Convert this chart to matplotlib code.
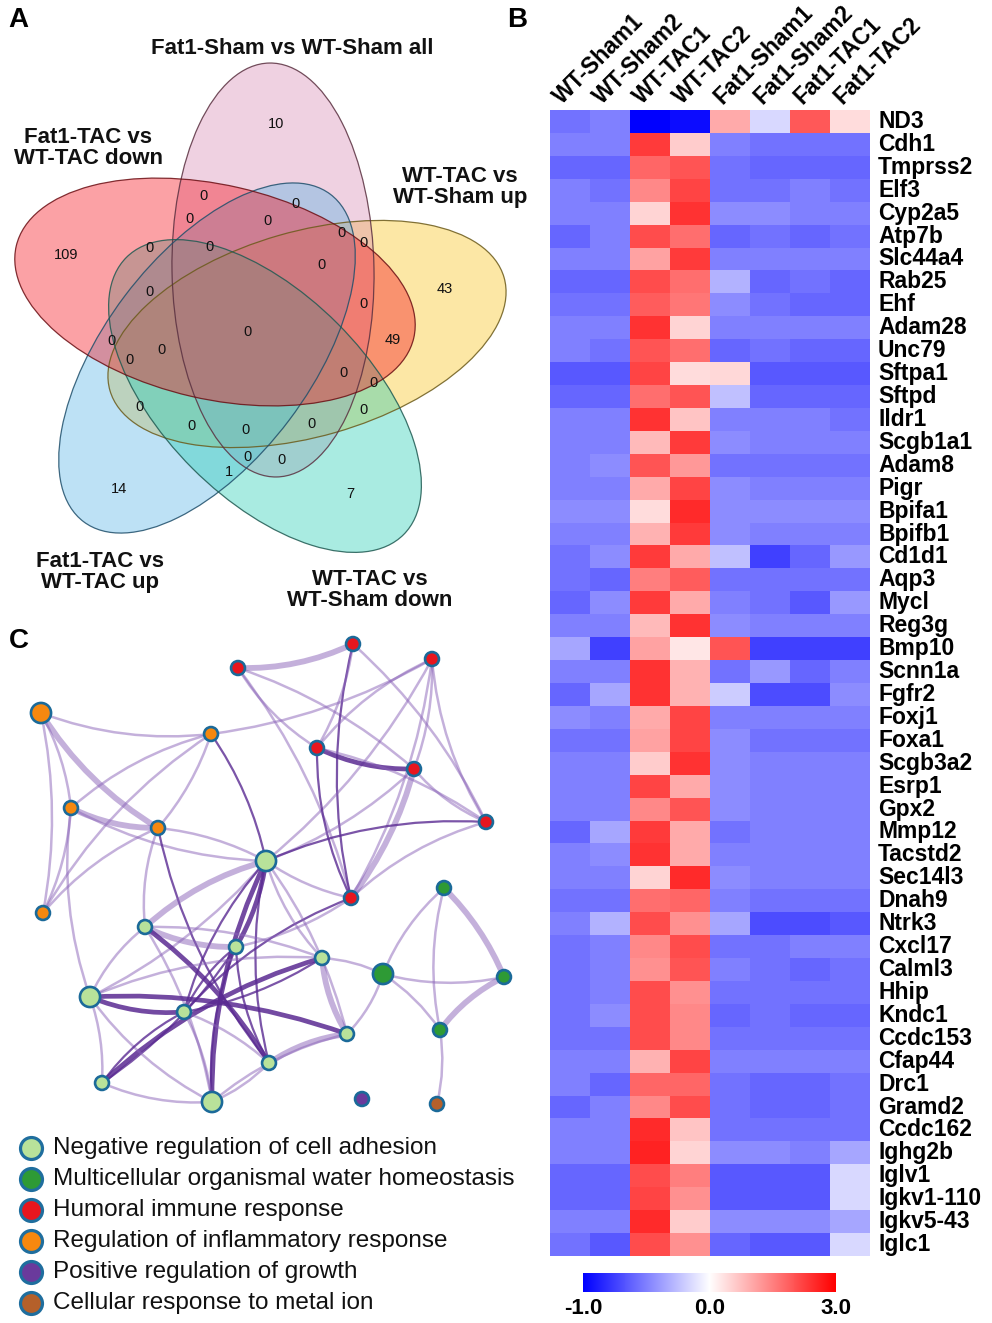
import numpy as np
import matplotlib
matplotlib.use("Agg")
import matplotlib.pyplot as plt
from matplotlib.patches import Ellipse, FancyArrowPatch
from matplotlib.colors import LinearSegmentedColormap, TwoSlopeNorm

plt.rcParams["font.family"] = ["Liberation Sans", "DejaVu Sans"]
plt.rcParams["axes.unicode_minus"] = False

W, H = 992, 1323

# ---------------- A : Venn (5 sets)
venn_labels = ["Fat1-Sham vs WT-Sham all", "Fat1-TAC vs\nWT-TAC down", "WT-TAC vs\nWT-Sham up",
               "Fat1-TAC vs\nWT-TAC up", "WT-TAC vs\nWT-Sham down"]
venn_cx = [273, 215, 307, 207, 265]
venn_cy = [270, 292, 334, 358, 396]
venn_len = [414, 408, 410, 410, 392]
venn_wid = [202, 214, 205, 206, 205]
venn_ang = [91, -13, 16, 53, -45]
venn_title_x = [292, 88, 460, 100, 370]
venn_title_y = [48, 148, 187, 572, 590]

region_counts = [10, 109, 43, 49, 14, 7, 1, 0,
                 0, 0, 0, 0, 0, 0, 0, 0, 0, 0, 0, 0, 0, 0, 0, 0, 0, 0, 0, 0, 0, 0, 0]
region_x = [276, 66, 445, 393, 119, 350, 229, 248,
            203, 295, 190, 267, 342, 364, 149, 210, 322, 364, 149, 111, 130, 162, 343, 374,
            140, 364, 191, 246, 312, 248, 281]
region_y = [124, 255, 289, 340, 489, 494, 472, 332,
            196, 204, 219, 221, 233, 243, 248, 247, 265, 304, 292, 341, 360, 350, 373, 383,
            407, 410, 426, 430, 424, 457, 460]

# ---------------- B : heatmap
samples = ["WT-Sham1", "WT-Sham2", "WT-TAC1", "WT-TAC2",
           "Fat1-Sham1", "Fat1-Sham2", "Fat1-TAC1", "Fat1-TAC2"]
genes = ["ND3", "Cdh1", "Tmprss2", "Elf3", "Cyp2a5", "Atp7b", "Slc44a4", "Rab25", "Ehf", "Adam28",
         "Unc79", "Sftpa1", "Sftpd", "Ildr1", "Scgb1a1", "Adam8", "Pigr", "Bpifa1", "Bpifb1", "Cd1d1",
         "Aqp3", "Mycl", "Reg3g", "Bmp10", "Scnn1a", "Fgfr2", "Foxj1", "Foxa1", "Scgb3a2", "Esrp1",
         "Gpx2", "Mmp12", "Tacstd2", "Sec14l3", "Dnah9", "Ntrk3", "Cxcl17", "Calml3", "Hhip", "Kndc1",
         "Ccdc153", "Cfap44", "Drc1", "Gramd2", "Ccdc162", "Ighg2b", "Iglv1", "Igkv1-110", "Igkv5-43", "Iglc1"]
expr = np.array([
    [-0.55, -0.50, -1.00, -0.95, 1.00, -0.15, 1.95, 0.40],
    [-0.50, -0.50, 2.30, 0.60, -0.50, -0.55, -0.55, -0.55],
    [-0.60, -0.60, 1.80, 2.00, -0.55, -0.60, -0.60, -0.60],
    [-0.50, -0.55, 1.40, 2.20, -0.55, -0.55, -0.50, -0.55],
    [-0.50, -0.50, 0.50, 2.40, -0.45, -0.45, -0.50, -0.50],
    [-0.60, -0.50, 2.10, 1.70, -0.60, -0.55, -0.60, -0.55],
    [-0.50, -0.50, 1.10, 2.30, -0.50, -0.50, -0.50, -0.50],
    [-0.60, -0.60, 2.10, 1.70, -0.30, -0.60, -0.55, -0.60],
    [-0.55, -0.55, 1.90, 1.60, -0.45, -0.55, -0.60, -0.60],
    [-0.50, -0.50, 2.40, 0.50, -0.50, -0.50, -0.50, -0.50],
    [-0.50, -0.55, 2.00, 1.70, -0.60, -0.55, -0.60, -0.60],
    [-0.65, -0.65, 2.20, 0.40, 0.45, -0.65, -0.65, -0.65],
    [-0.60, -0.60, 1.70, 2.00, -0.25, -0.60, -0.60, -0.60],
    [-0.50, -0.50, 2.40, 0.70, -0.50, -0.50, -0.50, -0.55],
    [-0.50, -0.50, 0.80, 2.30, -0.45, -0.50, -0.50, -0.50],
    [-0.50, -0.45, 2.00, 1.20, -0.55, -0.55, -0.55, -0.55],
    [-0.50, -0.50, 1.00, 2.20, -0.45, -0.50, -0.50, -0.50],
    [-0.45, -0.45, 0.40, 2.50, -0.45, -0.45, -0.45, -0.45],
    [-0.50, -0.50, 0.90, 2.30, -0.45, -0.50, -0.50, -0.50],
    [-0.55, -0.45, 2.30, 1.00, -0.25, -0.75, -0.60, -0.40],
    [-0.55, -0.60, 1.50, 1.90, -0.55, -0.55, -0.55, -0.55],
    [-0.60, -0.45, 2.30, 1.00, -0.50, -0.55, -0.65, -0.40],
    [-0.50, -0.50, 0.80, 2.40, -0.45, -0.50, -0.50, -0.50],
    [-0.35, -0.75, 1.10, 0.30, 2.00, -0.75, -0.75, -0.75],
    [-0.50, -0.50, 2.40, 0.90, -0.55, -0.40, -0.60, -0.50],
    [-0.60, -0.35, 2.40, 0.90, -0.20, -0.70, -0.70, -0.45],
    [-0.45, -0.50, 1.00, 2.20, -0.50, -0.50, -0.50, -0.50],
    [-0.55, -0.55, 1.10, 2.20, -0.45, -0.55, -0.55, -0.55],
    [-0.50, -0.50, 0.60, 2.40, -0.45, -0.50, -0.50, -0.50],
    [-0.50, -0.50, 2.20, 1.00, -0.45, -0.50, -0.50, -0.50],
    [-0.50, -0.50, 1.40, 2.00, -0.45, -0.50, -0.50, -0.50],
    [-0.60, -0.35, 2.30, 1.00, -0.55, -0.50, -0.50, -0.50],
    [-0.50, -0.45, 2.40, 1.00, -0.50, -0.50, -0.50, -0.50],
    [-0.50, -0.50, 0.50, 2.50, -0.45, -0.50, -0.50, -0.50],
    [-0.55, -0.55, 1.70, 1.80, -0.50, -0.55, -0.55, -0.55],
    [-0.50, -0.30, 2.10, 1.30, -0.35, -0.70, -0.70, -0.65],
    [-0.55, -0.50, 1.40, 2.10, -0.55, -0.55, -0.50, -0.50],
    [-0.55, -0.50, 1.30, 2.00, -0.50, -0.55, -0.60, -0.55],
    [-0.55, -0.50, 2.10, 1.30, -0.55, -0.55, -0.55, -0.55],
    [-0.55, -0.45, 2.10, 1.40, -0.60, -0.55, -0.60, -0.60],
    [-0.55, -0.55, 2.10, 1.40, -0.55, -0.55, -0.55, -0.55],
    [-0.50, -0.50, 0.90, 2.20, -0.50, -0.50, -0.50, -0.50],
    [-0.50, -0.60, 1.80, 1.80, -0.55, -0.60, -0.60, -0.55],
    [-0.60, -0.50, 1.40, 2.10, -0.55, -0.60, -0.60, -0.55],
    [-0.50, -0.50, 2.50, 0.70, -0.55, -0.55, -0.55, -0.55],
    [-0.50, -0.50, 2.60, 0.50, -0.45, -0.45, -0.50, -0.35],
    [-0.60, -0.60, 2.10, 1.50, -0.65, -0.65, -0.65, -0.15],
    [-0.60, -0.60, 2.20, 1.30, -0.65, -0.65, -0.65, -0.15],
    [-0.50, -0.50, 2.50, 0.60, -0.45, -0.45, -0.45, -0.35],
    [-0.55, -0.65, 2.10, 1.30, -0.60, -0.65, -0.65, -0.15],
])

# ---------------- C : enrichment network
terms = ["Negative regulation of cell adhesion", "Multicellular organismal water homeostasis",
         "Humoral immune response", "Regulation of inflammatory response",
         "Positive regulation of growth", "Cellular response to metal ion"]
term_colors = ["#b8e29a", "#2e9a35", "#e8161e", "#f6880f", "#6a3a9c", "#b5602a"]

node_x = [238, 353, 432, 317, 414, 486, 351,
          41, 211, 71, 158, 43,
          266, 145, 236, 322, 90, 184, 347, 269, 102, 212,
          444, 383, 504, 440, 362, 437]
node_y = [668, 644, 659, 748, 769, 822, 898,
          713, 734, 808, 828, 913,
          861, 927, 947, 958, 997, 1012, 1034, 1063, 1083, 1102,
          888, 974, 977, 1030, 1099, 1104]
node_term = [2, 2, 2, 2, 2, 2, 2,
             3, 3, 3, 3, 3,
             0, 0, 0, 0, 0, 0, 0, 0, 0, 0,
             1, 1, 1, 1, 4, 5]
node_big = [7, 12, 16, 21, 23]

# (source, target, strength class: 1 weak, 2 weak-wide, 3 strong, 4 strong-wide)
edges = [
    (0, 1, 2), (0, 3, 1), (0, 6, 1), (0, 4, 1), (1, 6, 3), (1, 3, 1), (1, 5, 1),
    (2, 3, 1), (2, 4, 1), (2, 6, 1), (2, 5, 1), (2, 8, 1), (2, 12, 1),
    (3, 4, 4), (3, 6, 3), (3, 5, 1), (4, 5, 1), (4, 6, 2), (4, 12, 1),
    (5, 12, 3), (5, 6, 1), (6, 12, 1), (6, 17, 3), (6, 14, 1),
    (7, 8, 1), (7, 9, 1), (7, 11, 1), (7, 10, 2), (8, 9, 1), (8, 10, 1), (8, 11, 1),
    (8, 12, 3), (9, 10, 2), (9, 11, 1), (9, 12, 1), (9, 16, 1), (10, 11, 1), (10, 12, 1),
    (10, 19, 3), (10, 13, 1),
    (12, 13, 2), (12, 14, 4), (12, 16, 1), (12, 17, 3), (12, 18, 1), (12, 19, 3),
    (12, 21, 4), (12, 15, 1), (13, 14, 2), (13, 19, 4), (13, 16, 1), (13, 15, 1),
    (13, 21, 1), (14, 17, 3), (14, 19, 3), (14, 21, 3), (14, 20, 3), (15, 20, 4),
    (15, 18, 2), (15, 16, 1), (15, 17, 3), (15, 23, 1), (16, 17, 4), (16, 18, 4),
    (16, 20, 1), (16, 21, 1), (17, 20, 3), (17, 21, 1), (17, 19, 1), (18, 19, 2),
    (18, 21, 1), (19, 21, 1), (20, 21, 1), (18, 23, 1),
    (22, 23, 1), (22, 24, 2), (22, 25, 1), (23, 24, 1), (23, 25, 1), (24, 25, 2), (25, 27, 1),
]

# ============================================================
fig = plt.figure(figsize=(W / 100, H / 100), dpi=100)
fig.patch.set_facecolor("white")

# --- Panel A
axA = fig.add_axes([0, 1 - 620 / H, 540 / W, 620 / H])
axA.set_xlim(0, 540)
axA.set_ylim(620, 0)
axA.axis("off")

venn_face = ["#d98eb4", "#f5141e", "#f9c31e", "#5cb4e6", "#2acdb4"]
venn_edge = ["#5a3040", "#6b0f14", "#6b5a1a", "#1f4f6b", "#1f5a52"]
draw_order = [2, 0, 3, 4, 1]  # yellow, pink, blue, teal, red on top
for i in draw_order:
    e = Ellipse((venn_cx[i], venn_cy[i]), venn_len[i], venn_wid[i], angle=-venn_ang[i],
                facecolor=venn_face[i], alpha=0.4, edgecolor="none")
    axA.add_patch(e)
for i in draw_order:
    e = Ellipse((venn_cx[i], venn_cy[i]), venn_len[i], venn_wid[i], angle=-venn_ang[i],
                facecolor="none", edgecolor=venn_edge[i], lw=0.9, alpha=0.85)
    axA.add_patch(e)

for n, x, y in zip(region_counts, region_x, region_y):
    axA.text(x, y, str(n), ha="center", va="center", fontsize=10.5, color="#111111")

for lab, x, y in zip(venn_labels, venn_title_x, venn_title_y):
    axA.text(x, y, lab, ha="center", va="center", fontsize=16, fontweight="bold",
             linespacing=1.05, color="#111111")

# --- Panel B
axB = fig.add_axes([550 / W, 1 - 1256 / H, 320 / W, 1146 / H])
cmap = LinearSegmentedColormap.from_list("bwr_exp", ["#0000ff", "#ffffff", "#ff0000"])
norm = TwoSlopeNorm(vmin=-1.0, vcenter=0.0, vmax=3.0)
mesh = axB.pcolormesh(expr, cmap=cmap, norm=norm, edgecolors="face", linewidth=0)
axB.set_xlim(0, len(samples))
axB.set_ylim(len(genes), 0)
axB.axis("off")

for j, s in enumerate(samples):
    axB.text(j + 0.3, -0.2, s, rotation=45, rotation_mode="anchor", ha="left", va="baseline",
             fontsize=16.5, fontweight="bold", clip_on=False)
for i, g in enumerate(genes):
    axB.text(len(samples) + 0.2, i + 0.5, g, ha="left", va="center",
             fontsize=16.5, fontweight="bold", clip_on=False)

cax = fig.add_axes([583 / W, 1 - 1292 / H, 253 / W, 19 / H])
cb = fig.colorbar(mesh, cax=cax, orientation="horizontal", ticks=[-1.0, 0.0, 3.0])
cb.outline.set_visible(False)
cb.ax.set_xticklabels(["-1.0", "0.0", "3.0"], fontsize=16, fontweight="bold")
cb.ax.tick_params(length=0, pad=4)

# --- Panel C
axC = fig.add_axes([0, 0, 540 / W, 703 / H])
axC.set_xlim(0, 540)
axC.set_ylim(1323, 620)
axC.axis("off")

edge_style = {
    1: dict(color="#8a63b8", alpha=0.5, lw=1.8),
    2: dict(color="#8a63b8", alpha=0.5, lw=4.2),
    3: dict(color="#5a2a92", alpha=0.8, lw=1.6),
    4: dict(color="#5a2a92", alpha=0.85, lw=3.4),
}
for k, (a, b, s) in enumerate(edges):
    bend = 0.12 if (a + b) % 2 else -0.1
    p = FancyArrowPatch((node_x[a], node_y[a]), (node_x[b], node_y[b]),
                        arrowstyle="-", connectionstyle=f"arc3,rad={bend}",
                        shrinkA=0, shrinkB=0, capstyle="round", zorder=2, **edge_style[s])
    axC.add_patch(p)

sizes = [210 if i in node_big else 100 for i in range(len(node_x))]
axC.scatter(node_x, node_y, s=sizes, c=[term_colors[t] for t in node_term],
            edgecolors="#1b6a99", linewidths=1.9, zorder=5)

for k, (t, c) in enumerate(zip(terms, term_colors)):
    y = 1148 + 31 * k
    axC.scatter([31], [y], s=250, c=[c], edgecolors="#1f6e9e", linewidths=2.3, zorder=5,
                clip_on=False)
    axC.text(53, y, t, ha="left", va="center", fontsize=17.5, color="#111111")

# --- panel letters
for lab, x, y in [("A", 18, 20), ("B", 517, 20), ("C", 19, 641)]:
    fig.text(x / W, 1 - y / H, lab, ha="center", va="center", fontsize=20, fontweight="bold")

fig.savefig("out.png", dpi=100, facecolor="white")
